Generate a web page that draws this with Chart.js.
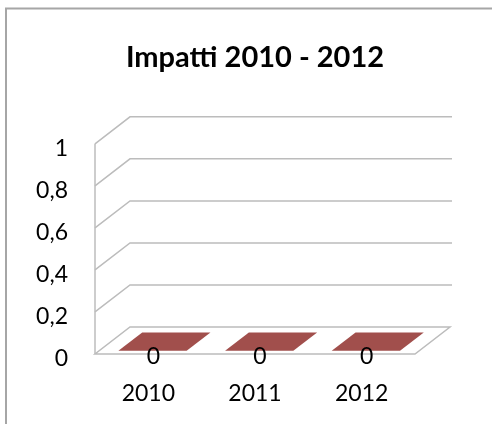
<!DOCTYPE html>
<html>
<head>
<meta charset="utf-8">
<script src="https://cdn.jsdelivr.net/npm/chart.js@4.4.1/dist/chart.umd.min.js"></script>
<style>
  html, body { margin: 0; padding: 0; background: #fff; }
  #chart { display: block; }
</style>
</head>
<body>
<canvas id="chart" width="492" height="424"></canvas>
<script>
// ===== Data =====
const years = ["2010", "2011", "2012"];
const impatti = [0, 0, 0];
const yTickLabels = ["0", "0,2", "0,4", "0,6", "0,8", "1"];

// 3D look (Excel style): depth offset of the back wall
const DEPTH_X = 35;
const DEPTH_Y = -27;
const GRID_COLOR = "#bcbcbc";
const BAR_COLOR = "#a14f4c";

// Frame + 3D walls, floor and flat bars
const excel3d = {
  id: "excel3d",
  beforeDraw(chart) {
    const c = chart.ctx;
    c.save();
    c.strokeStyle = "#a6a6a6";
    c.lineWidth = 2;
    c.strokeRect(6, 8.5, 520, 440);
    c.restore();
  },
  beforeDatasetsDraw(chart) {
    const c = chart.ctx;
    const area = chart.chartArea;
    const y = chart.scales.y;
    c.save();
    c.strokeStyle = GRID_COLOR;
    c.lineWidth = 1.5;
    // gridlines on side and back wall
    y.ticks.forEach(t => {
      const py = y.getPixelForValue(t.value);
      if (t.value === 0) return;
      c.beginPath();
      c.moveTo(area.left, py);
      c.lineTo(area.left + DEPTH_X, py + DEPTH_Y);
      c.lineTo(area.right + DEPTH_X + 2, py + DEPTH_Y);
      c.stroke();
    });
    // front-left edge
    c.beginPath();
    c.moveTo(area.left, y.getPixelForValue(1));
    c.lineTo(area.left, y.getPixelForValue(0));
    c.stroke();
    // floor
    const y0 = y.getPixelForValue(0);
    c.beginPath();
    c.moveTo(area.left, y0);
    c.lineTo(area.right, y0);
    c.lineTo(area.right + DEPTH_X, y0 + DEPTH_Y);
    c.lineTo(area.left + DEPTH_X, y0 + DEPTH_Y);
    c.closePath();
    c.stroke();

    // bars
    const meta = chart.getDatasetMeta(0);
    const f1 = 0.12, f2 = 0.8;
    meta.data.forEach(bar => {
      const l = bar.x - bar.width / 2;
      const r = bar.x + bar.width / 2;
      const top = bar.y;
      const base = bar.base;
      c.fillStyle = BAR_COLOR;
      // front face
      if (base - top > 0.5) {
        c.fillRect(l + DEPTH_X * f1, top + DEPTH_Y * f1, bar.width, base - top);
      }
      // top face
      c.beginPath();
      c.moveTo(l + DEPTH_X * f1, top + DEPTH_Y * f1);
      c.lineTo(r + DEPTH_X * f1, top + DEPTH_Y * f1);
      c.lineTo(r + DEPTH_X * f2, top + DEPTH_Y * f2);
      c.lineTo(l + DEPTH_X * f2, top + DEPTH_Y * f2);
      c.closePath();
      c.fill();
    });
    c.restore();
  },
  afterDatasetsDraw(chart) {
    const c = chart.ctx;
    const meta = chart.getDatasetMeta(0);
    c.save();
    c.fillStyle = "#000";
    c.font = "23px Lato";
    c.textAlign = "center";
    c.textBaseline = "middle";
    meta.data.forEach((bar, i) => {
      c.fillText(String(impatti[i]), bar.x + 5, bar.y + 3);
    });
    c.restore();
  }
};

new Chart(document.getElementById("chart"), {
  type: "bar",
  data: {
    labels: years,
    datasets: [
      {
        label: "Impatti",
        data: impatti,
        backgroundColor: "rgba(0,0,0,0)",
        borderWidth: 0,
        barPercentage: 0.8,
        categoryPercentage: 0.8,
      },
    ],
  },
  options: {
    responsive: false,
    animation: false,
    layout: { padding: { left: 18, right: 0, top: 0, bottom: 0 } },
    plugins: {
      legend: { display: false },
      tooltip: { enabled: false },
      title: {
        display: true,
        text: "Impatti 2010 - 2012",
        color: "#000",
        font: { family: "Lato", size: 29, weight: "bold" },
        padding: { top: 40, bottom: 69 },
      },
    },
    scales: {
      x: {
        grid: { display: false, drawTicks: false },
        border: { display: false },
        ticks: { color: "#000", font: { family: "Lato", size: 23 }, padding: 26 },
        afterFit(scale) { scale.height = 70; },
      },
      y: {
        min: 0,
        max: 1,
        grid: { display: false, drawTicks: false },
        border: { display: false },
        ticks: {
          stepSize: 0.2,
          color: "#000",
          font: { family: "Lato", size: 23 },
          padding: 27,
          labelOffset: 5,
          callback: (v, i) => yTickLabels[i],
        },
        afterFit(scale) { scale.width = 77; },
      },
      // empty right-hand space that holds the back wall depth
      yRight: {
        position: "right",
        grid: { display: false, drawTicks: false },
        border: { display: false },
        ticks: { display: false },
        afterFit(scale) { scale.width = 77; },
      },
    },
  },
  plugins: [excel3d],
});
</script>
</body>
</html>
